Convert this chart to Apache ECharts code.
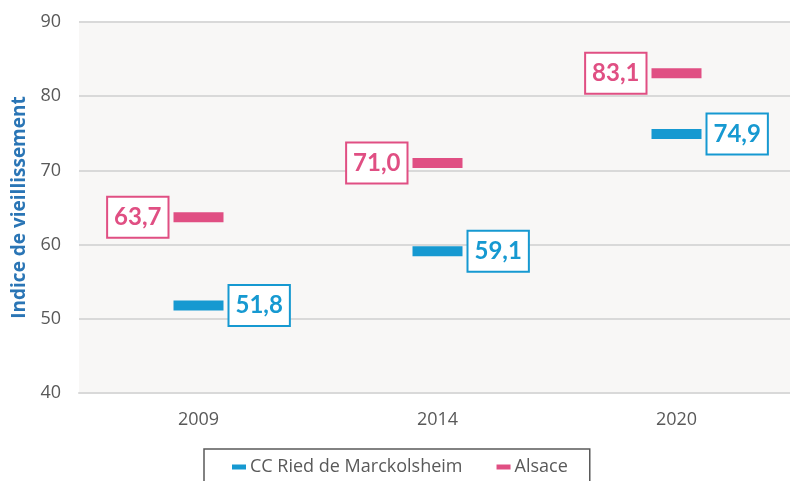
<!DOCTYPE html>
<html>
<head>
<meta charset="utf-8">
<script src="https://cdn.jsdelivr.net/npm/echarts@6/dist/echarts.min.js"></script>
<style>
html, body { margin: 0; padding: 0; background: #fff; }
#chart { width: 790px; height: 481px; }
</style>
</head>
<body>
<div id="chart"></div>
<script>
const years = ["2009", "2014", "2020"];
const ccRied = [51.8, 59.1, 74.9];
const alsace = [63.7, 71.0, 83.1];
const yTicks = { min: 40, max: 90, step: 10 };

const blue = "#1699d1";
const pink = "#e04f83";
const fmt = (p) => p.value.toFixed(1).replace(".", ",");

const chart = echarts.init(document.getElementById("chart"));

function boxLabel(color, pos) {
    return {
        show: true,
        position: pos,
        distance: 6,
        formatter: fmt,
        color: color,
        fontFamily: "Lato",
        fontWeight: "bold",
        fontSize: 24,
        backgroundColor: "#fff",
        borderColor: color,
        borderWidth: 2,
        padding: [8, 6, 7, 6],
    };
}

chart.setOption({
    animation: false,
    textStyle: { fontFamily: "Open Sans" },
    grid: {
        left: 79,
        top: 22,
        width: 717,
        height: 371,
        outerBoundsMode: "none",
        show: true,
        backgroundColor: "#f8f7f6",
        borderWidth: 0,
    },
    xAxis: {
        type: "category",
        data: years,
        axisTick: { show: false },
        axisLine: { lineStyle: { color: "#d9d9d9", width: 2 } },
        axisLabel: { color: "#595959", fontSize: 18, margin: 18 },
    },
    yAxis: {
        type: "value",
        min: yTicks.min,
        max: yTicks.max,
        interval: yTicks.step,
        name: "Indice de vieillissement",
        nameLocation: "middle",
        nameGap: 49,
        nameTextStyle: {
            color: "#2a75b5",
            fontWeight: "bold",
            fontSize: 19,
        },
        axisLine: { show: false },
        axisTick: { show: false },
        splitLine: { lineStyle: { color: "#d9d9d9", width: 2 } },
        axisLabel: { color: "#595959", fontSize: 18, margin: 18 },
    },
    legend: {
        left: 204,
        top: 449,
        icon: "rect",
        itemWidth: 14,
        itemHeight: 5,
        itemGap: 34,
        borderColor: "#595959",
        borderWidth: 1.5,
        padding: [9, 22, 20, 28],
        textStyle: { color: "#595959", fontSize: 18, padding: [0, 0, 0, -1] },
        data: ["CC Ried de Marckolsheim", "Alsace"],
    },
    series: [
        {
            name: "CC Ried de Marckolsheim",
            type: "scatter",
            data: ccRied,
            symbol: "rect",
            symbolSize: [50, 10],
            itemStyle: { color: blue, opacity: 1 },
            label: boxLabel(blue, "right"),
        },
        {
            name: "Alsace",
            type: "scatter",
            data: alsace,
            symbol: "rect",
            symbolSize: [50, 10],
            itemStyle: { color: pink, opacity: 1 },
            label: boxLabel(pink, "left"),
        },
    ],
});
</script>
</body>
</html>
